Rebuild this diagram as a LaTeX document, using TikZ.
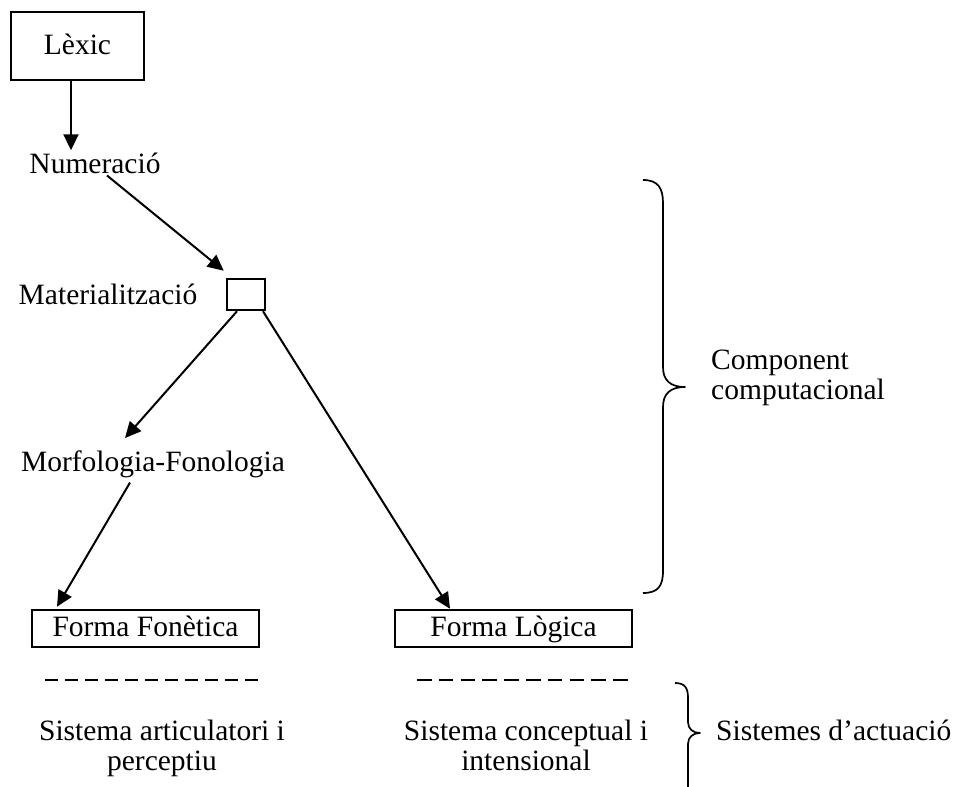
\documentclass[tikz,border=0pt]{standalone}
\usepackage{fontspec}
\setmainfont{Liberation Serif}
\usetikzlibrary{arrows.meta}
\begin{document}
\begin{tikzpicture}[x=1pt,y=-1pt,
  every node/.style={font=\fontsize{29.5}{30}\selectfont, inner sep=2pt},
  lbl/.style={anchor=base},
  box/.style={draw, line width=2.5pt, inner sep=0pt, text height=21pt, text depth=5pt},
  arr/.style={line width=2pt, -{Triangle[length=16pt,width=15pt]}},
  curly/.style={line width=1.7pt, line join=round},
  rule/.style={line width=1.5pt}
]
\useasboundingbox (0,0) rectangle (964,787);

% components of the grammar
\node[box, minimum width=133pt, minimum height=68pt] (lexic) at (77.5,46) {Lèxic};
\node[lbl] (num) at (95,173) {Numeració};
\node[box, minimum width=38pt, minimum height=31pt, text height=0pt, text depth=0pt] (mat) at (246,294.5) {};
\node[lbl] (matlbl) at (108,304) {Materialització};
\node[lbl] (morf) at (153,471) {Morfologia-Fonologia};
\node[box, minimum width=227pt, minimum height=37pt] (ff) at (145.5,628.5) {Forma Fonètica};
\node[box, minimum width=237pt, minimum height=37pt] (fl) at (513.5,628.5) {Forma Lògica};

% performance systems
\node[align=center, anchor=north, inner sep=0pt] (sa) at (162,720) {Sistema articulatori i\\perceptiu};
\node[align=center, anchor=north, inner sep=0pt] (sc) at (526,720) {Sistema conceptual i\\intensional};

% brace labels
\node[align=left, anchor=north west, inner sep=0pt] (comp) at (711,350) {Component\\computacional};
\node[anchor=base west, inner sep=0pt] (act) at (716,740) {Sistemes d’actuació};

% derivation arrows
\draw[arr] ([xshift=-6.5pt]lexic.south) -- ([xshift=-6.5pt]lexic.south |- num.north);
\draw[arr] ([xshift=12pt]num.south) -- ([shift={(-2pt,7pt)}]mat.north west);
\draw[arr] ([xshift=-9pt]mat.south) -- ([shift={(-28pt,10pt)}]morf.north);
\draw[arr] ([xshift=17pt]mat.south) -- ([xshift=-63.5pt]fl.north);
\draw[arr] ([shift={(-23pt,-3pt)}]morf.south) -- ([shift={(-88.5pt,2pt)}]ff.north);

% interface separators
\draw[rule, dash pattern=on 13.3pt off 6.7pt] (45,680) -- (258,680);
\draw[rule, dash pattern=on 14.5pt off 7.3pt] (417,680) -- (628,680);

% braces
\draw[curly] (643,180) .. controls (658,180) and (663,188) .. (663,203)
  -- (663,367) .. controls (663,380) and (670,387) .. (685,387)
  .. controls (670,387) and (663,394) .. (663,407)
  -- (663,571) .. controls (663,586) and (658,593) .. (643,593);
\draw[curly] (675,683) .. controls (685,683) and (688,688) .. (688,698)
  -- (688,722) .. controls (688,729) and (693,733) .. (700,733)
  .. controls (693,733) and (688,737) .. (688,744) -- (688,790);
\end{tikzpicture}
\end{document}
